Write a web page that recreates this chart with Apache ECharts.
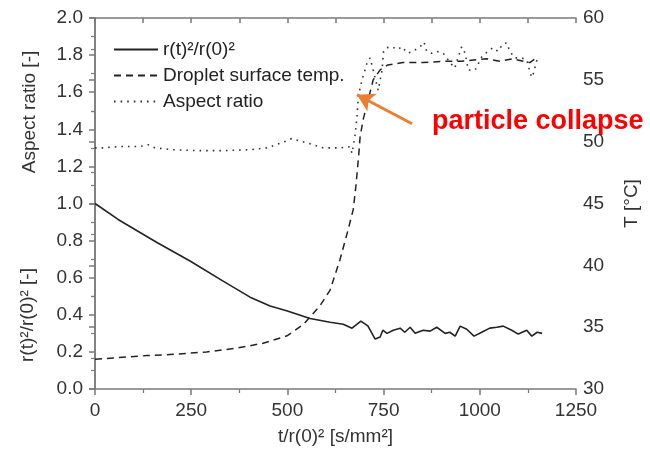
<!DOCTYPE html>
<html>
<head>
<meta charset="utf-8">
<script src="https://cdn.jsdelivr.net/npm/echarts@6/dist/echarts.min.js"></script>
<style>html,body{margin:0;padding:0;background:#fff;}#c{width:650px;height:451px;}</style>
</head>
<body>
<div id="c"></div>
<script>
// r(t)^2/r(0)^2 (left axis)
const sizeT = [0, 60, 161, 247, 334, 403, 455, 500, 559, 611, 645, 668, 691, 709, 728, 741, 748, 759, 775, 793, 805, 819, 832, 853, 871, 888, 910, 922, 936, 949, 966, 985, 1005, 1026, 1044, 1061, 1083, 1100, 1122, 1135, 1149, 1162];
const sizeVal = [1.0, 0.914, 0.79, 0.69, 0.58, 0.495, 0.447, 0.42, 0.38, 0.36, 0.349, 0.328, 0.366, 0.34, 0.269, 0.28, 0.317, 0.30, 0.317, 0.328, 0.306, 0.333, 0.30, 0.317, 0.312, 0.333, 0.30, 0.306, 0.285, 0.339, 0.322, 0.285, 0.306, 0.328, 0.333, 0.339, 0.317, 0.296, 0.317, 0.285, 0.306, 0.30];
// Droplet surface temperature (right axis, °C)
const tempT = [0, 134, 203, 290, 368, 437, 499, 541, 584, 611, 637, 658, 671, 678, 685, 689, 697, 710, 723, 741, 761, 800, 853, 905, 949, 983, 1018, 1052, 1084, 1113, 1130, 1152];
const tempVal = [32.4, 32.7, 32.8, 33.0, 33.3, 33.7, 34.3, 35.2, 36.7, 38.0, 40.5, 42.9, 44.5, 46.4, 48.8, 50.4, 51.8, 53.4, 55.0, 55.8, 56.2, 56.4, 56.4, 56.5, 56.5, 56.6, 56.7, 56.5, 56.7, 56.5, 56.4, 56.9];
// Aspect ratio (left axis)
const arT = [0, 21, 60, 117, 138, 156, 203, 265, 333, 403, 447, 489, 511, 528, 567, 593, 637, 663, 668, 676, 681, 684, 694, 707, 715, 736, 746, 750, 758, 771, 787, 797, 813, 826, 845, 855, 862, 875, 888, 905, 923, 935, 944, 953, 962, 970, 988, 1005, 1021, 1034, 1047, 1060, 1070, 1078, 1091, 1109, 1122, 1130, 1135, 1141, 1146, 1154];
const arVal = [1.30, 1.30, 1.307, 1.307, 1.317, 1.30, 1.29, 1.285, 1.285, 1.29, 1.30, 1.33, 1.35, 1.34, 1.317, 1.30, 1.30, 1.306, 1.27, 1.37, 1.47, 1.575, 1.667, 1.758, 1.785, 1.61, 1.72, 1.82, 1.84, 1.845, 1.83, 1.845, 1.81, 1.82, 1.845, 1.87, 1.82, 1.81, 1.82, 1.81, 1.76, 1.73, 1.79, 1.845, 1.81, 1.72, 1.72, 1.79, 1.82, 1.84, 1.82, 1.86, 1.866, 1.82, 1.785, 1.785, 1.774, 1.71, 1.68, 1.71, 1.76, 1.796];

const xTicks = [0, 250, 500, 750, 1000, 1250];
const seriesNames = ['r(t)²/r(0)²', 'Droplet surface temp.', 'Aspect ratio'];
const arrowFrom = [824, 1.43];
const arrowTo = [681, 1.586];

const zip = (a, b) => a.map((v, i) => [v, b[i]]);
const axisCol = '#7a7a7a';
const txtCol = '#333';
const font = 'Liberation Sans, Arial, sans-serif';

const chart = echarts.init(document.getElementById('c'), null, {renderer: 'canvas'});
chart.setOption({
  animation: false,
  backgroundColor: '#fff',
  grid: {left: 95, right: 74, top: 18, bottom: 61},
  legend: {
    orient: 'vertical', left: 108, top: 35,
    itemWidth: 44, itemHeight: 18, itemGap: 7,
    itemStyle: {color: 'rgba(0,0,0,0)', borderWidth: 0, opacity: 0},
    textStyle: {fontSize: 19, color: '#222', fontFamily: font, lineHeight: 18},
    data: seriesNames
  },
  xAxis: [{
    type: 'value', min: 0, max: 1250, interval: 250, position: 'bottom',
    name: 't/r(0)² [s/mm²]', nameLocation: 'middle', nameGap: 38,
    nameTextStyle: {fontSize: 19, color: txtCol, fontFamily: font},
    axisLine: {show: true, lineStyle: {color: axisCol, width: 1.5}},
    axisTick: {show: true, inside: false, length: 6, lineStyle: {color: axisCol, width: 1.5}},
    minorTick: {show: true, splitNumber: 2, length: 4, lineStyle: {color: axisCol, width: 1.2}},
    axisLabel: {fontSize: 19, color: txtCol, fontFamily: font, margin: 12,
      formatter: v => xTicks.includes(v) ? String(v) : ''},
    splitLine: {show: false}
  }, {
    type: 'value', min: 0, max: 1250, interval: 125, position: 'top',
    axisLine: {show: true, lineStyle: {color: axisCol, width: 1.5}},
    axisTick: {show: true, inside: true, length: 5, lineStyle: {color: axisCol, width: 1.5}},
    axisLabel: {show: false}, splitLine: {show: false}
  }],
  yAxis: [{
    type: 'value', min: 0, max: 2, interval: 0.2, position: 'left',
    axisLine: {show: true, lineStyle: {color: axisCol, width: 1.5}},
    axisTick: {show: true, inside: false, length: 6, lineStyle: {color: axisCol, width: 1.5}},
    minorTick: {show: true, splitNumber: 2, length: 4, lineStyle: {color: axisCol, width: 1.2}},
    axisLabel: {fontSize: 19, color: txtCol, fontFamily: font, margin: 12, formatter: v => v.toFixed(1)},
    splitLine: {show: false}
  }, {
    type: 'value', min: 30, max: 60, interval: 5, position: 'right',
    name: 'T [°C]', nameLocation: 'middle', nameGap: 46, nameRotate: 90,
    nameTextStyle: {fontSize: 19, color: txtCol, fontFamily: font},
    axisLine: {show: true, lineStyle: {color: axisCol, width: 1.5}},
    axisTick: {show: true, inside: true, length: 6, lineStyle: {color: axisCol, width: 1.5}},
    minorTick: {show: true, splitNumber: 2, length: 4, lineStyle: {color: axisCol, width: 1.2}},
    axisLabel: {fontSize: 19, color: txtCol, fontFamily: font, margin: 7},
    splitLine: {show: false}
  }],
  series: [{
    name: seriesNames[0], type: 'line', xAxisIndex: 0, yAxisIndex: 0,
    data: zip(sizeT, sizeVal), symbol: 'none', showSymbol: false,
    itemStyle: {color: '#222'},
    lineStyle: {color: '#222', width: 1.6, type: 'solid'}
  }, {
    name: seriesNames[1], type: 'line', xAxisIndex: 0, yAxisIndex: 1,
    data: zip(tempT, tempVal), symbol: 'none', showSymbol: false,
    itemStyle: {color: '#222'},
    lineStyle: {color: '#222', width: 1.5, type: [7, 5]}
  }, {
    name: seriesNames[2], type: 'line', xAxisIndex: 0, yAxisIndex: 0,
    data: zip(arT, arVal), symbol: 'none', showSymbol: false,
    itemStyle: {color: '#333'},
    lineStyle: {color: '#333', width: 1.6, type: [1.6, 5]},
    markLine: {
      silent: true, animation: false,
      symbol: ['none', 'arrow'], symbolSize: [15, 17],
      lineStyle: {color: '#ED7D31', width: 3, type: 'solid'},
      label: {show: false},
      data: [[{coord: arrowFrom}, {coord: arrowTo}]]
    }
  }],
  graphic: [{
    type: 'text', left: 432, top: 108,
    style: {text: 'particle collapse', fill: '#FF0000', font: 'bold 27px Liberation Sans, Arial, sans-serif'}
  }, {
    type: 'text', x: 30, y: 112, rotation: Math.PI / 2,
    style: {text: 'Aspect ratio [-]', fill: txtCol, font: '19px Liberation Sans, Arial, sans-serif', align: 'center', verticalAlign: 'middle'}
  }, {
    type: 'text', x: 28, y: 315, rotation: Math.PI / 2,
    style: {text: 'r(t)²/r(0)² [-]', fill: txtCol, font: '19px Liberation Sans, Arial, sans-serif', align: 'center', verticalAlign: 'middle'}
  }]
});
</script>
</body>
</html>
